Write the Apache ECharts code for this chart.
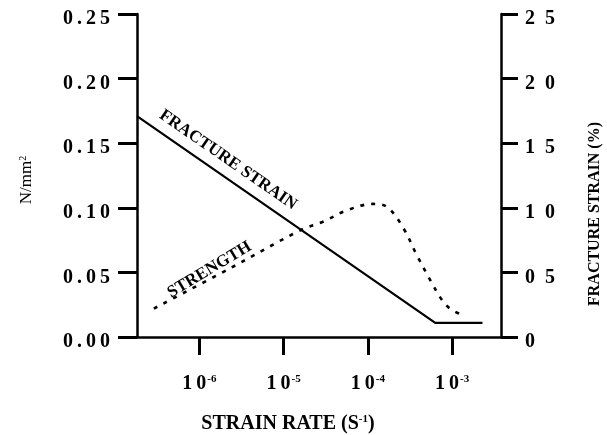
<!DOCTYPE html>
<html><head><meta charset="utf-8">
<script src="https://cdn.jsdelivr.net/npm/echarts@6/dist/echarts.min.js"></script>
<style>html,body{margin:0;padding:0;background:#fff}#c{width:607px;height:435px}</style>
</head><body><div id="c"></div>
<script>
// x values are log10 of strain rate (s^-1)
const strainRateTicks = [-6, -5, -4, -3];
const strainRateTickLabels = ['-6', '-5', '-4', '-3'];
const leftTickLabels = ['0.00', '0.05', '0.10', '0.15', '0.20', '0.25'];
const rightTickLabels = ['0', '05', '10', '15', '20', '25'];
const fractureStrainRate = [-6.74, -3.20, -2.64];
const fractureStrainPct = [17.1, 1.1, 1.1];
const strengthRate = [-6.54, -5.64, -4.79, -4.54, -4.25, -3.94, -3.77, -3.58, -3.42, -3.26, -3.12, -3.02, -2.88];
const strengthVal = [0.022, 0.053, 0.083, 0.089, 0.098, 0.103, 0.1006, 0.0844, 0.0635, 0.0441, 0.0286, 0.0217, 0.017];
const fractureLabel = {text: 'FRACTURE STRAIN', rate: -5.66, pct: 13.7};
const strengthLabel = {text: 'STRENGTH', rate: -5.88, val: 0.052};
const rightAxisName = 'FRACTURE STRAIN (%)';

const FONT = 'Liberation Serif';
const sp = (s, gap) => s.split('').join(gap || '\u2009');
const chart = echarts.init(document.getElementById('c'), null, {renderer: 'canvas'});
const axisLine = {show: true, lineStyle: {color: '#000', width: 2.5}};
const tick = len => ({show: true, length: len, lineStyle: {color: '#000', width: 3}});
const tickText = {fontFamily: FONT, fontWeight: 'bold', fontSize: 20, color: '#000', padding: [10, 0, 0, 0]};

chart.setOption({
  animation: false,
  backgroundColor: '#fff',
  grid: {left: 137, right: 106, top: 14, bottom: 98, containLabel: false, outerBoundsMode: 'none'},
  xAxis: {
    type: 'value', min: -6.74, max: -2.42,
    splitLine: {show: false},
    axisLine: axisLine,
    axisTick: Object.assign(tick(18), {customValues: strainRateTicks}),
    axisLabel: {
      customValues: strainRateTicks, margin: 37,
      formatter: v => '{b|' + sp('10') + '}{s|' + strainRateTickLabels[strainRateTicks.indexOf(Math.round(v))] + '}',
      rich: {
        b: {fontFamily: FONT, fontWeight: 'bold', fontSize: 20, color: '#000'},
        s: {fontFamily: FONT, fontWeight: 'bold', fontSize: 11, color: '#000', padding: [0, 0, 9, 1]}
      }
    },
    name: '{a|STRAIN RATE (S}{s|-1}{a|)}',
    nameLocation: 'middle', nameGap: 77,
    nameTextStyle: {
      padding: [0, 62, 0, 0],
      rich: {
        a: {fontFamily: FONT, fontWeight: 'bold', fontSize: 20, color: '#000'},
        s: {fontFamily: FONT, fontWeight: 'bold', fontSize: 11, color: '#000', padding: [0, 0, 9, 0]}
      }
    }
  },
  yAxis: [{
    type: 'value', min: 0, max: 0.25, interval: 0.05, position: 'left',
    splitLine: {show: false},
    axisLine: axisLine, axisTick: tick(19),
    axisLabel: {
      margin: 27,
      formatter: v => '{t|' + sp(leftTickLabels[Math.round(v / 0.05)]) + '}',
      rich: {t: tickText}
    },
    name: '{a|N/mm}{s|2}',
    nameLocation: 'middle', nameGap: 101, nameRotate: 90,
    nameTextStyle: {
      padding: [0, 9, 0, 0],
      rich: {
        a: {fontFamily: FONT, fontSize: 17, color: '#000'},
        s: {fontFamily: FONT, fontSize: 10, color: '#000', padding: [0, 0, 8, 0]}
      }
    }
  }, {
    type: 'value', min: 0, max: 25, interval: 5, position: 'right',
    splitLine: {show: false},
    axisLine: axisLine, axisTick: tick(17),
    axisLabel: {
      margin: 24,
      formatter: v => '{t|' + sp(rightTickLabels[Math.round(v / 5)], '\u2002') + '}',
      rich: {t: tickText}
    }
  }],
  graphic: [{
    type: 'text', x: 595, y: 214, rotation: Math.PI / 2,
    style: {text: rightAxisName, fontFamily: FONT, fontWeight: 'bold', fontSize: 16, fill: '#000',
      align: 'center', verticalAlign: 'middle'}
  }],
  series: [{
    name: 'Fracture strain', type: 'line', yAxisIndex: 1,
    data: fractureStrainRate.map((x, i) => [x, fractureStrainPct[i]]),
    symbol: 'none',
    lineStyle: {color: '#000', width: 2.2},
    markPoint: {
      symbol: 'circle', symbolSize: 0,
      label: {show: true, position: 'inside', rotate: -34.6, formatter: fractureLabel.text,
        fontFamily: FONT, fontWeight: 'bold', fontSize: 17, color: '#000'},
      data: [{coord: [fractureLabel.rate, fractureLabel.pct]}]
    }
  }, {
    name: 'Strength', type: 'line', yAxisIndex: 0,
    data: strengthRate.map((x, i) => [x, strengthVal[i]]),
    symbol: 'none', smooth: 0.35,
    lineStyle: {color: '#000', width: 2.6, type: [4, 7]},
    markPoint: {
      symbol: 'circle', symbolSize: 0,
      label: {show: true, position: 'inside', rotate: 31, formatter: strengthLabel.text,
        fontFamily: FONT, fontWeight: 'bold', fontSize: 17, color: '#000'},
      data: [{coord: [strengthLabel.rate, strengthLabel.val]}]
    }
  }]
});
</script></body></html>
